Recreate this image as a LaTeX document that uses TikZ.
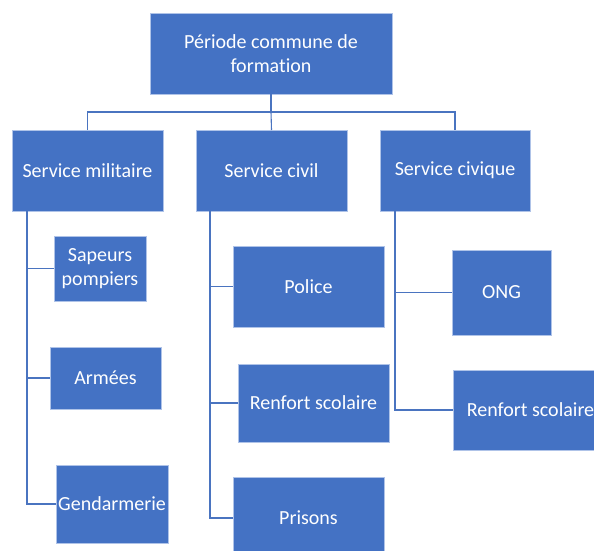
\documentclass[tikz,border=0pt]{standalone}
\usepackage{fontspec}
\setmainfont[Ligatures=NoCommon]{Carlito}
\definecolor{boxblue}{HTML}{4472C4}
\definecolor{edgeblue}{HTML}{AFC3E8}
\definecolor{lineblue}{HTML}{4A74C0}
\begin{document}
\begin{tikzpicture}[x=1pt,y=-1pt,
  box/.style={fill=boxblue,draw=edgeblue,line width=0.8pt,inner sep=0pt,outer sep=0pt,
    text=white,align=center,font=\fontsize{20}{24}\selectfont},
  conn/.style={draw=lineblue,line width=1.1pt}]
\useasboundingbox (0,0) rectangle (594,551);
\clip (0,0) rectangle (594,551);
\fill[white] (0,0) rectangle (594,551);
\node[box,minimum width=242pt,minimum height=81pt] (top) at (271,53.5) {Période commune de\\formation};
\node[box,minimum width=151pt,minimum height=81pt] (mil) at (87.5,170.5) {Service militaire};
\node[box,minimum width=151pt,minimum height=81pt] (civ) at (271.5,170.5) {Service civil};
\node[box,minimum width=150pt,minimum height=81pt] (civq) at (455,170.5) {Service civique};
\node[box,minimum width=92pt,minimum height=65pt] (sap) at (100,268.5) {Sapeurs\\pompiers};
\node[box,minimum width=111pt,minimum height=62pt] (arm) at (105.5,378) {Armées};
\node[box,minimum width=112pt,minimum height=78pt] (gen) at (112,504) {Gendarmerie};
\node[box,minimum width=151pt,minimum height=81pt] (pol) at (308.5,286.5) {Police};
\node[box,minimum width=151pt,minimum height=78pt] (ren) at (313.5,403) {Renfort scolaire};
\node[box,minimum width=151pt,minimum height=82pt] (pri) at (308.5,518) {Prisons};
\node[box,minimum width=99pt,minimum height=85pt] (ong) at (501.5,292.5) {ONG};
\node[box,minimum width=155pt,minimum height=80pt] (ren2) at (530.5,410) {Renfort scolaire};
% top level connectors
\coordinate (hub) at ([yshift=-18pt]top.south);
\draw[conn] (top.south) -- (hub);
\draw[conn] (hub) -| (mil.north);
\draw[conn] (hub) -| (civq.north);
\draw[conn] (hub) -- (civ.north);
% militaire
\draw[conn] ([xshift=15pt]mil.south west) |- (gen.west);
\draw[conn] ([xshift=15pt]mil.south west) |- (sap.west);
\draw[conn] ([xshift=15pt]mil.south west) |- (arm.west);
% civil
\draw[conn] ([xshift=14pt]civ.south west) |- (pri.west);
\draw[conn] ([xshift=14pt]civ.south west) |- (pol.west);
\draw[conn] ([xshift=14pt]civ.south west) |- (ren.west);
% civique
\draw[conn] ([xshift=15pt]civq.south west) |- (ren2.west);
\draw[conn] ([xshift=15pt]civq.south west) |- (ong.west);
\end{tikzpicture}
\end{document}
